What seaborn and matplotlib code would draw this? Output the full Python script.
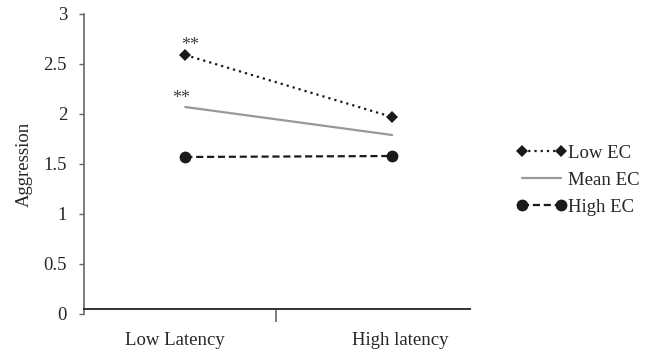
import pandas as pd
import matplotlib.pyplot as plt
import seaborn as sns

# data
latency = ['Low Latency', 'High latency']
low_ec = [2.59, 1.97]
mean_ec = [2.07, 1.79]
high_ec = [1.57, 1.58]
groups = ['Low EC', 'Mean EC', 'High EC']

df = pd.DataFrame({
    'latency': latency * 3,
    'aggression': low_ec + mean_ec + high_ec,
    'EC': [g for g in groups for _ in latency],
})

sns.set_style('white')
plt.rcParams['font.family'] = ['Liberation Serif', 'DejaVu Serif']

fig = plt.figure(figsize=(6.49, 3.49), dpi=100)
ax = fig.add_axes([0.1294, 0.1003, 0.5948, 0.8596])

palette = {'Low EC': '#1a1a1a', 'Mean EC': '#999999', 'High EC': '#1a1a1a'}
dashes = {'Low EC': (1.0, 1.8), 'Mean EC': '', 'High EC': (3.2, 1.7)}
markers = {'Low EC': 'D', 'Mean EC': 'o', 'High EC': 'o'}
sizes = {'Low EC': 6, 'Mean EC': 0, 'High EC': 8.5}

sns.lineplot(data=df, x='latency', y='aggression', hue='EC', style='EC',
             palette=palette, dashes=dashes, markers=markers,
             hue_order=groups, style_order=groups, linewidth=1.6,
             markeredgewidth=0, ax=ax)
for line, g in zip(ax.lines, groups):
    line.set_markersize(sizes[g])

handles, labels = ax.get_legend_handles_labels()
ax.get_legend().remove()
for h, g in zip(handles, labels):
    if g in sizes:
        h.set_markersize(sizes[g])
fig.legend(handles, labels, loc='center left', bbox_to_anchor=(0.769, 0.484),
           frameon=False, numpoints=2, handlelength=2.7, handletextpad=0.05,
           labelspacing=0.52, fontsize=13.5, labelcolor='#262626')

ax.set_xlim(-0.49, 1.377)
ax.set_ylim(0, 3)
ax.set_yticks([0, 0.5, 1, 1.5, 2, 2.5, 3])
ax.set_yticklabels(['0', '0.5', '1', '1.5', '2', '2.5', '3'])
ax.set_xticks([-0.05, 1.04])
ax.set_xticklabels(latency)
ax.set_xticks([0.44], minor=True)
ax.tick_params(axis='x', which='major', bottom=False, length=0, pad=16,
               labelsize=13.5, colors='#262626')
ax.tick_params(axis='x', which='minor', bottom=True, length=9.5, width=1.2,
               color='#666666', direction='out')
ax.tick_params(axis='y', left=True, length=3.6, width=1.0, color='#666666',
               direction='out', labelsize=13.5, labelcolor='#262626', pad=8.6)
ax.set_xlabel('')
ax.set_ylabel('Aggression', fontsize=13.5, color='#262626', labelpad=8)

sns.despine(ax=ax)
ax.spines['left'].set_color('#666666')
ax.spines['left'].set_linewidth(1.2)
ax.spines['bottom'].set_color('#333333')
ax.spines['bottom'].set_linewidth(1.4)
ax.spines['bottom'].set_position(('data', 0.045))

ax.text(0.024, 2.64, '**', fontsize=13, color='#404040', ha='center', va='baseline')
ax.text(-0.02, 2.11, '**', fontsize=13, color='#404040', ha='center', va='baseline')

fig.savefig('out.png', dpi=100)
